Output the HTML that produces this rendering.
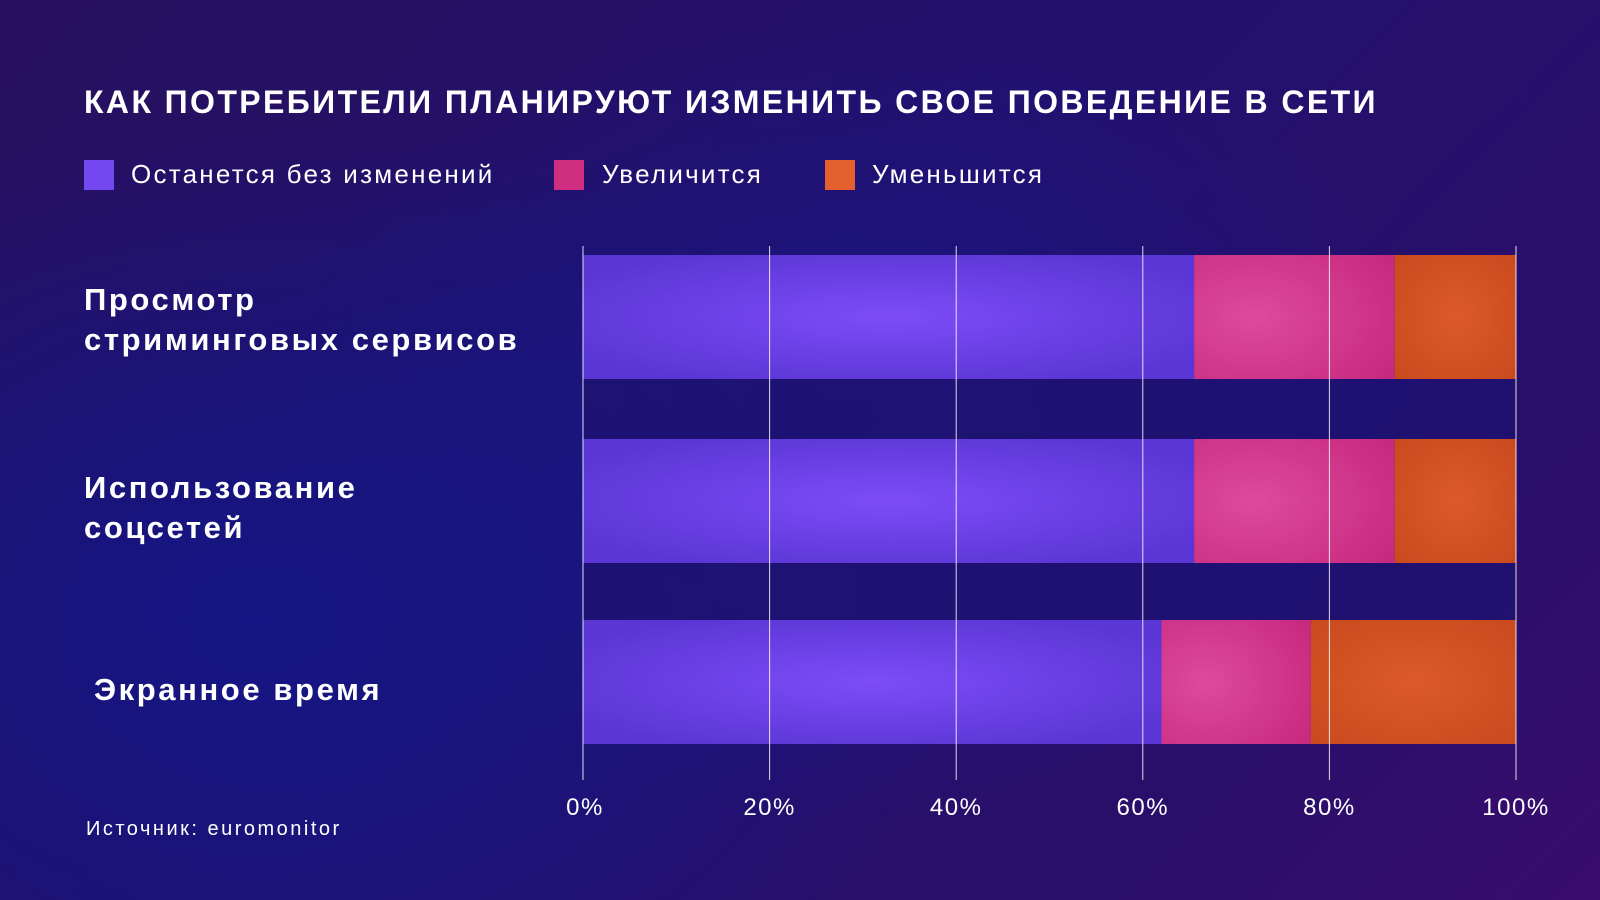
<!DOCTYPE html>
<html><head><meta charset="utf-8"><style>
html,body{margin:0;padding:0}
body{width:1600px;height:900px;overflow:hidden;font-family:"Liberation Sans","DejaVu Sans",sans-serif;color:#fff;
background:radial-gradient(ellipse 700px 500px at 260px 620px,#141685 0%,rgba(20,22,133,0) 100%),radial-gradient(ellipse 600px 400px at 850px 420px,#1a1580 0%,rgba(26,21,128,0) 100%),linear-gradient(135deg,#27105e 0%,#22106e 45%,#2a0f6a 80%,#3a0c6e 100%);position:relative}
.t{position:absolute;white-space:nowrap}
</style></head><body>
<div class="t" style="left:84px;top:84px;font-size:32px;font-weight:bold;letter-spacing:2.4px">КАК ПОТРЕБИТЕЛИ ПЛАНИРУЮТ ИЗМЕНИТЬ СВОЕ ПОВЕДЕНИЕ В СЕТИ</div>
<div style="position:absolute;left:84px;top:160px;width:30px;height:30px;background:#7448f0"></div>
<div class="t" style="left:131px;top:159px;font-size:26px;letter-spacing:2.25px">Останется без изменений</div>
<div style="position:absolute;left:554px;top:160px;width:30px;height:30px;background:#cf2e80"></div>
<div class="t" style="left:602px;top:159px;font-size:26px;letter-spacing:2.25px">Увеличится</div>
<div style="position:absolute;left:825px;top:160px;width:30px;height:30px;background:#e45f2e"></div>
<div class="t" style="left:872px;top:159px;font-size:26px;letter-spacing:2.25px">Уменьшится</div>
<div class="t" style="left:84px;top:280px;font-size:31px;font-weight:bold;letter-spacing:2.6px;line-height:40px">Просмотр<br>стриминговых сервисов</div>
<div class="t" style="left:84px;top:468px;font-size:31px;font-weight:bold;letter-spacing:2.6px;line-height:40px">Использование<br>соцсетей</div>
<div class="t" style="left:94px;top:670px;font-size:31px;font-weight:bold;letter-spacing:2.6px;line-height:40px">Экранное время</div>
<div class="t" style="left:86px;top:818px;font-size:20px;letter-spacing:2.5px">Источник: euromonitor</div>
<svg id="chart" width="1600" height="900" style="position:absolute;left:0;top:0">
<defs>
<radialGradient id="gp" cx="0.5" cy="0.5" r="0.6"><stop offset="0" stop-color="#7d4cf8"/><stop offset="1" stop-color="#5a36d4"/></radialGradient>
<radialGradient id="gk" cx="0.3" cy="0.5" r="0.8"><stop offset="0" stop-color="#dd4a9c"/><stop offset="1" stop-color="#c82a80"/></radialGradient>
<radialGradient id="go" cx="0.5" cy="0.5" r="0.7"><stop offset="0" stop-color="#dc5a2a"/><stop offset="1" stop-color="#c94a1e"/></radialGradient>
</defs>
</svg>
<script>
const categories=["Просмотр стриминговых сервисов","Использование соцсетей","Экранное время"];
const sameValues=[65.5,65.5,62];
const increaseValues=[21.5,21.5,16];
const decreaseValues=[13,13,22];
const tickValues=[0,20,40,60,80,100];
const tickLabels=["0%","20%","40%","60%","80%","100%"];
const svg=document.getElementById('chart');
const NS='http://www.w3.org/2000/svg';
const x0=583,x1=1516;
const xs=v=>x0+(x1-x0)*v/100;
const rowTop=[255,439,620],barH=124;
const bandTop=rowTop[0],bandBottom=rowTop[2]+barH;
const band=document.createElementNS(NS,'rect');
band.setAttribute('x',x0);band.setAttribute('y',bandTop);band.setAttribute('width',x1-x0);band.setAttribute('height',bandBottom-bandTop);band.setAttribute('fill','#1e1272');band.setAttribute('opacity','0.85');


svg.appendChild(band);
const fills=['url(#gp)','url(#gk)','url(#go)'];
const names=['same','increase','decrease'];
categories.forEach((c,i)=>{
  const vals=[sameValues[i],increaseValues[i],decreaseValues[i]];
  let acc=0;
  vals.forEach((v,j)=>{
    const r=document.createElementNS(NS,'rect');
    r.setAttribute('x',xs(acc));r.setAttribute('y',rowTop[i]);
    r.setAttribute('width',xs(acc+v)-xs(acc));r.setAttribute('height',barH);
    r.setAttribute('fill',fills[j]);
    
    
    svg.appendChild(r);acc+=v;
  });
});
tickValues.forEach((t,i)=>{
  const l=document.createElementNS(NS,'line');
  l.setAttribute('x1',xs(t));l.setAttribute('x2',xs(t));l.setAttribute('y1',246);l.setAttribute('y2',780);
  l.setAttribute('stroke','#ffffff');l.setAttribute('stroke-opacity','0.85');l.setAttribute('stroke-width','1');
  
  
  svg.appendChild(l);
  const tx=document.createElementNS(NS,'text');
  tx.setAttribute('x',xs(t)+(i==0?2:0));tx.setAttribute('y',815);
  tx.setAttribute('text-anchor','middle');tx.setAttribute('fill','#fff');tx.setAttribute('font-size','24');tx.setAttribute('letter-spacing','1.5');
  tx.setAttribute('font-family','"Liberation Sans",sans-serif');
  tx.textContent=tickLabels[i];
  
  
  svg.appendChild(tx);
});
</script>
</body></html>
